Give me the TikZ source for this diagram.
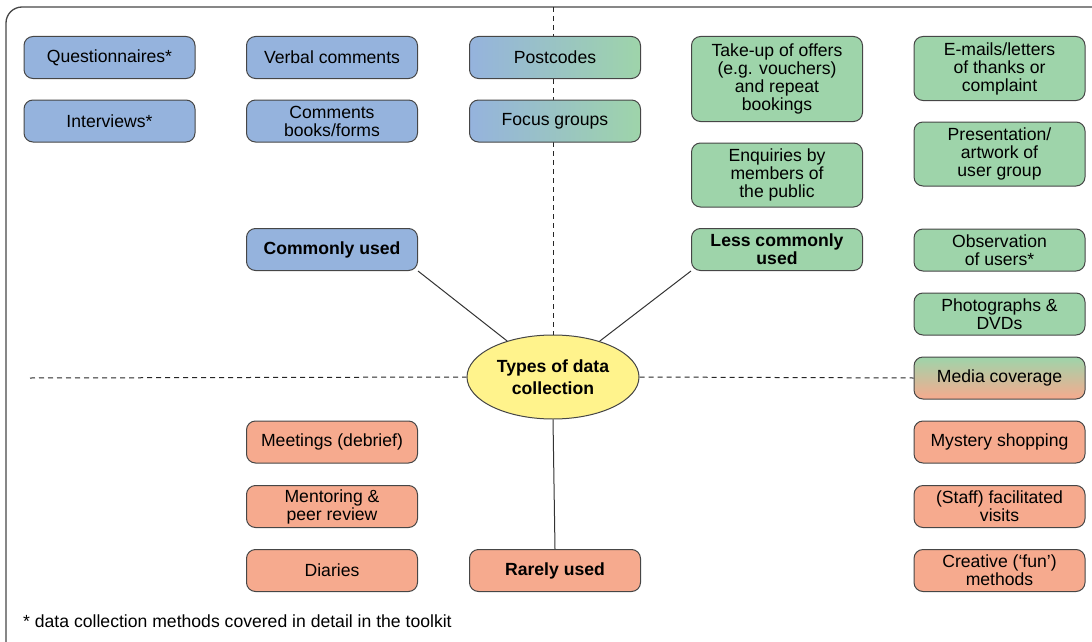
\documentclass[tikz,border=0pt]{standalone}
\usepackage{fontspec}
\setmainfont{Liberation Sans}
\usetikzlibrary{shapes.geometric}
\definecolor{cblue}{RGB}{149,179,221}
\definecolor{cgreen}{RGB}{158,212,170}
\definecolor{csalmon}{RGB}{246,170,142}
\definecolor{cyellow}{RGB}{255,243,140}
\definecolor{edge}{RGB}{70,70,70}
\tikzset{
  box/.style={draw=edge, line width=1pt, rounded corners=9pt, minimum width=171pt,
    minimum height=42pt, align=center, inner sep=1pt, font=\fontsize{17.6}{18}\selectfont},
  bluebox/.style={box, fill=cblue},
  greenbox/.style={box, fill=cgreen},
  redbox/.style={box, fill=csalmon},
  hub/.style={font=\fontsize{17.6}{18}\selectfont\bfseries},
  link/.style={draw=black!80, line width=1pt},
  divider/.style={draw=black!85, line width=1pt, dash pattern=on 5pt off 4pt},
}
\begin{document}
\begin{tikzpicture}[x=1pt,y=-1pt]
\useasboundingbox (0,0) rectangle (1092,642);
% outer frame, running off the right and bottom edges
\begin{scope}
\clip (0,0) rectangle (1092,642);
\draw[edge, line width=1.3pt, rounded corners=16pt] (6,700) -- (6,7) -- (1200,7);
\end{scope}

% central ellipse
\node[ellipse, draw=edge, line width=1pt, fill=cyellow, minimum width=172pt, minimum height=84pt,
  inner sep=0pt, align=center, font=\fontsize{17.6}{22}\selectfont\bfseries] (el) at (553,377)
  {Types of data\\collection};

% dividers
\coordinate (vtop) at (553,7);
\coordinate (hleft) at (30,378);
\draw[divider] (vtop) -- (el.north);
\draw[divider] (hleft) -- (el.west);

% commonly used
\node[bluebox] (q) at (109.5,57.5) {Questionnaires*};
\node[bluebox] (iv) at (109.5,121) {Interviews*};
\node[bluebox] (vc) at (332,57.5) {Verbal comments};
\node[bluebox] (cb) at (332,121) {Comments\\books/forms};
\node[box, left color=cblue, right color=cgreen] (pc) at (555,57.5) {Postcodes};
\node[box, left color=cblue, right color=cgreen] (fg) at (555,121) {Focus groups};
\node[bluebox, hub] (cu) at (332,249.5) {Commonly used};

% less commonly used
\node[greenbox, minimum height=85pt] (tu) at (777,79) {Take-up of offers\\(e.g. vouchers)\\and repeat\\bookings};
\node[greenbox, minimum height=64pt] (en) at (777,175) {Enquiries by\\members of\\the public};
\node[greenbox, hub] (lc) at (777,249.5) {Less commonly\\used};
\node[greenbox, minimum height=64pt] (em) at (999.5,68.5) {E-mails/letters\\of thanks or\\complaint};
\node[greenbox, minimum height=64pt] (pr) at (999.5,154) {Presentation/\\artwork of\\user group};
\node[greenbox] (ob) at (999.5,250) {Observation\\of users*};
\node[greenbox] (ph) at (999.5,314) {Photographs \&\\DVDs};
\node[box, top color=cgreen, bottom color=csalmon] (mc) at (999.5,378) {Media coverage};

% rarely used
\node[redbox] (ms) at (999.5,442) {Mystery shopping};
\node[redbox] (sv) at (999.5,506.5) {(Staff) facilitated\\visits};
\node[redbox] (cr) at (999.5,570.5) {Creative (‘fun’)\\methods};
\node[redbox] (mt) at (332,442) {Meetings (debrief)};
\node[redbox] (mp) at (332,506.5) {Mentoring \&\\peer review};
\node[redbox] (di) at (332,570.5) {Diaries};
\node[redbox, hub] (ru) at (555,570.5) {Rarely used};

\draw[divider] (el.east) -- (mc.west);

% connectors to the hub
\draw[link] (cu.south east) -- (el);
\draw[link] (lc.south west) -- (el);
\draw[link] (ru.north) -- (el.south);

% footnote
\node[anchor=west, inner sep=0pt, font=\fontsize{17.6}{18}\selectfont] (fn) at (23,621)
  {* data collection methods covered in detail in the toolkit};
\end{tikzpicture}
\end{document}
